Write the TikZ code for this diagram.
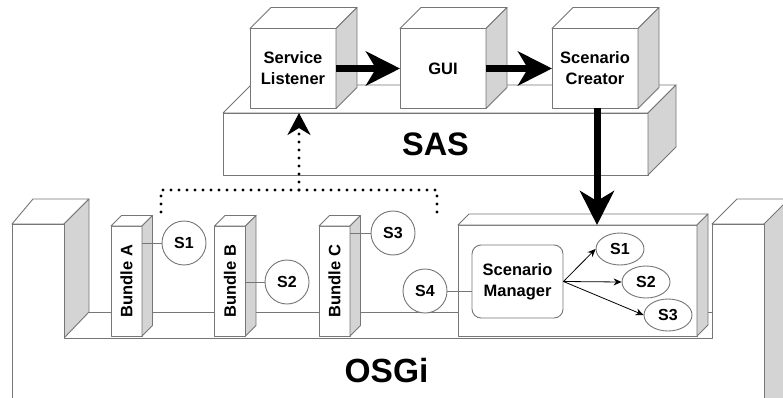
\documentclass[tikz,border=0pt]{standalone}
\usepackage{fontspec}
\setmainfont{Liberation Sans}
\usepackage{graphicx}
\usetikzlibrary{arrows.meta,calc,shapes.geometric}
\definecolor{edge}{RGB}{118,118,118}
\definecolor{sidegray}{RGB}{212,212,212}
\tikzset{
  face/.style={draw=edge, line width=0.9pt, fill=white, line join=round},
  sideface/.style={draw=edge, line width=0.9pt, fill=sidegray, line join=round},
  frontbox/.style={face, inner sep=0pt, outer sep=0pt, align=center,
    font=\fontsize{16.5}{21}\selectfont\bfseries},
  svc/.style={circle, draw=edge, line width=0.9pt, fill=white, minimum size=44pt,
    inner sep=0pt, font=\fontsize{16}{18}\selectfont\bfseries},
  svcell/.style={ellipse, draw=edge, line width=0.9pt, fill=white, minimum width=48pt,
    minimum height=32pt, inner sep=0pt, font=\fontsize{16}{18}\selectfont\bfseries},
  link/.style={draw=edge, line width=0.9pt},
  bigarrow/.style={line width=7pt, -{Stealth[length=34pt,width=34pt,inset=10pt]}},
  dotarrow/.style={line width=3.2pt, line cap=round, dash pattern=on 0pt off 8pt,
    -{Stealth[length=22pt,width=23pt,inset=7pt]}},
  thinarrow/.style={line width=0.8pt, -{Stealth[length=8pt,width=7pt]}},
}
\newcommand\boxfaces[2]{%
  \path[face] (#1.north west) -- ++(#2,-#2) -- ([shift={(#2,-#2)}]#1.north east) -- (#1.north east) -- cycle;
  \path[sideface] (#1.north east) -- ++(#2,-#2) -- ([shift={(#2,-#2)}]#1.south east) -- (#1.south east) -- cycle;}
\begin{document}
\begin{tikzpicture}[x=1pt,y=-1pt]
\clip (0,0) rectangle (783,398);
\fill[white] (0,0) rectangle (783,398);

% ---------- OSGi base ----------
\path[face] (12,224) -- (33,199) -- (89,199) -- (64,224) -- cycle;
\path[sideface] (64,224) -- (89,199) -- (89,312) -- (64,338) -- cycle;
\draw[link] (89,312) -- (712,312);
\path[face] (712,224) -- (737,199) -- (800,199) -- (764,224) -- cycle;
\path[sideface] (764,224) -- (789,199) -- (789,420) -- (764,420) -- cycle;
\path[face] (12,420) -- (12,224) -- (64,224) -- (64,338) -- (712,338) -- (712,224)
  -- (764,224) -- (764,420);
\node[font=\fontsize{33.5}{36}\selectfont\bfseries] (osgi) at (386.5,370.5) {OSGi};

% ---------- Bundles ----------
\node[frontbox, minimum width=31pt, minimum height=110pt] (ba) at (126.5,281) {\rotatebox{90}{Bundle A}};
\boxfaces{ba}{10.5}
\node[frontbox, minimum width=31pt, minimum height=110pt] (bb) at (230,281) {\rotatebox{90}{Bundle B}};
\boxfaces{bb}{10.5}
\node[frontbox, minimum width=31pt, minimum height=110pt] (bc) at (334.5,281) {\rotatebox{90}{Bundle C}};
\boxfaces{bc}{10.5}

\node[svc] (c1) at (184,243) {S1};
\node[svc] (c2) at (287,282) {S2};
\node[svc] (c3) at (393,233) {S3};
\draw[link] (c1.west) -- (c1 -| ba.east);
\draw[link] (c2.west) -- (c2 -| bb.east);
\draw[link] (c3.west) -- (c3 -| bc.east);

% ---------- Scenario manager container ----------
\node[frontbox, minimum width=239pt, minimum height=111pt] (smc) at (577.5,280.5) {};
\boxfaces{smc}{11}
\node[draw=edge, line width=0.9pt, fill=white, rounded corners=9pt, minimum width=91pt,
  minimum height=73pt, inner sep=0pt, align=center,
  font=\fontsize{16.5}{21}\selectfont\bfseries] (sm) at (517.5,281.5) {Scenario\\Manager};
\node[svcell] (e1) at (620,249) {S1};
\node[svcell] (e2) at (646,282) {S2};
\node[svcell] (e3) at (668,315) {S3};
\draw[thinarrow] (sm.east) -- (e1.west);
\draw[thinarrow] (sm.east) -- (e2.west);
\draw[thinarrow] (sm.east) -- (e3.west);

\node[svc] (c4) at (425,291) {S4};
\draw[link] (c4.east) -- (c4 -| sm.west);

% ---------- SAS ----------
\node[frontbox, minimum width=425pt, minimum height=62pt,
  font=\fontsize{32.5}{34}\selectfont\bfseries] (sas) at (435.5,144) {SAS};
\boxfaces{sas}{28}

\node[frontbox, minimum width=86pt, minimum height=80pt] (sl) at (293,68.5) {Service\\Listener};
\boxfaces{sl}{21}
\node[frontbox, minimum width=86pt, minimum height=80pt] (gui) at (443,68.5) {GUI};
\boxfaces{gui}{21}
\node[frontbox, minimum width=86pt, minimum height=80pt] (sc) at (595,68.5) {Scenario\\Creator};
\boxfaces{sc}{21}

\draw[bigarrow] (sl.east) -- (gui.west);
\draw[bigarrow] (gui.east) -- (sc.west);
\draw[bigarrow] ([xshift=2pt]sc.south) -- ([xshift=2pt]sc.south |- smc.north);

% ---------- dotted discovery link ----------
\coordinate (dl) at (161,212);
\coordinate (dlc) at (161,190);
\coordinate (drc) at (437,190);
\coordinate (dr) at (437,212);
\coordinate (dj) at (299,190);
\draw[line width=3.2pt, line cap=round, dash pattern=on 0pt off 8pt] (dl) -- (dlc) -- (drc) -- (dr);
\draw[dotarrow] (dj) -- (dj |- sas.north);
\end{tikzpicture}
\end{document}
